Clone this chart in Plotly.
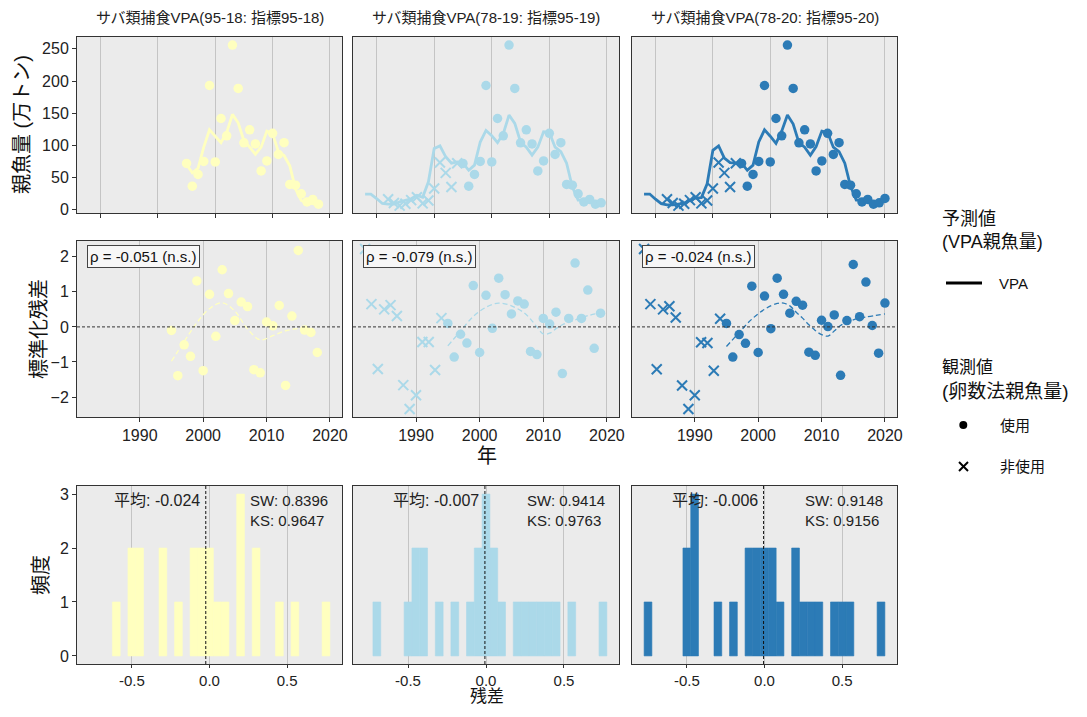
import plotly.graph_objects as go

# the page body has an 8px margin; the figure is sized to fill the rest of the window
OFF = 8
W, H = 1071, 701
FONT = "Liberation Sans, Noto Sans CJK JP, sans-serif"

# ---------------- data ----------------
TITLES = ["サバ類捕食VPA(95-18: 指標95-18)", "サバ類捕食VPA(78-19: 指標95-19)", "サバ類捕食VPA(78-20: 指標95-20)"]
COLORS = ["#FFFFBF", "#ABD9E9", "#2C7BB6"]

# VPA predicted spawning stock (万トン)
VPA_YEARS = [list(range(1995, 2019)), list(range(1978, 2020)), list(range(1978, 2021))]
VPA1 = [70, 57, 64, 97, 124, 114, 104, 120, 148, 135, 107, 97, 86, 97, 122, 118, 90, 84, 68, 32, 14, 10, 9, 6]
VPA2 = [24, 24, 17, 9.3, 8.2, 8.2, 11.8, 14.5, 16.6, 22, 19, 43, 95, 99, 82, 72, 74, 72, 61, 69,
        105, 123, 115, 104, 118, 147, 134, 105, 97, 84.5, 97, 121, 120, 97, 90, 72, 35, 14.5, 14.5, 11.8, 8.2, 10]
VPA3 = [24, 24, 16, 9, 7, 7, 8.5, 10, 14, 18, 18.5, 40, 92, 99, 80, 73, 72, 72, 61, 69,
        105, 124, 114, 103, 122, 147, 133, 104, 97, 84.5, 98, 122, 120, 97, 90, 72, 36, 14.5, 14.5, 11.8, 7.5, 9.5, 17]
VPA = [VPA1, VPA2, VPA3]

# observed (egg-survey) spawning stock
OBS_YEARS = list(range(1995, 2021))
OBS = [71.6, 36.3, 54.5, 74.7, 193, 74, 141.6, 114.6, 256, 188.5, 103.7, 124, 102, 60, 75.6, 118.5,
       85.6, 104, 38.9, 37.8, 24.3, 11.8, 15.6, 8.2, 10.3, 17.1]
OBS_END = [2018, 2019, 2020]
UNUSED_YEARS = list(range(1982, 1995))
UNUSED = [16, 10, 6, 9, 14.5, 19, 9.5, 14, 32.7, 73, 57, 35, 72]

# standardized residuals
RES_USED = [
    [-0.10, -1.39, -0.51, -0.84, 1.31, -1.25, 0.93, -0.27, 1.63, 0.95, 0.18, 0.71, 0.58, -1.22, -1.31,
     0.14, 0.03, 0.61, -1.67, 0.31, 2.18, -0.09, -0.16, -0.73],
    [0.10, -0.86, -0.21, -0.46, 1.18, -0.73, 0.90, -0.04, 1.39, 0.92, 0.37, 0.74, 0.65, -0.70, -0.79,
     0.24, 0.08, 0.42, -1.33, 0.24, 1.82, 0.24, 1.05, -0.61, 0.39],
    [0.10, -0.86, -0.22, -0.47, 1.16, -0.73, 0.88, -0.05, 1.39, 0.93, 0.39, 0.73, 0.62, -0.72, -0.81,
     0.19, 0.01, 0.34, -1.38, 0.18, 1.78, 0.29, 1.28, 0.04, -0.75, 0.68],
]
RES_UNUSED = [
    None,
    [2.22, 0.65, -1.20, 0.50, 0.62, 0.31, -1.66, -2.34, -1.95, -0.43, -0.43, -1.23, 0.25],
    [2.22, 0.65, -1.21, 0.50, 0.59, 0.27, -1.67, -2.34, -1.95, -0.44, -0.46, -1.25, 0.23],
]
# smoothed trend of residuals
SM_YEARS = [
    [1995, 1997, 1999, 2001, 2003, 2005, 2007, 2009, 2011, 2013, 2015, 2017],
    [1995, 1997, 1999, 2001, 2003, 2005, 2007, 2008, 2009, 2010, 2011, 2012, 2013, 2015, 2017, 2019],
    [1995, 1997, 1999, 2001, 2003, 2004, 2005, 2006, 2007, 2008, 2009, 2010, 2011, 2012, 2013, 2015, 2017, 2020],
]
SM_VALS = [
    [-0.98, -0.42, 0.12, 0.52, 0.69, 0.45, -0.06, -0.37, -0.25, -0.11, -0.05, -0.07],
    [-0.54, -0.12, 0.30, 0.56, 0.68, 0.60, 0.40, 0.22, 0.0, -0.20, -0.18, -0.05, 0.06, 0.20, 0.32, 0.40],
    [-0.56, -0.16, 0.22, 0.50, 0.67, 0.68, 0.60, 0.42, 0.25, 0.06, -0.10, -0.22, -0.26, -0.12, 0.04, 0.20, 0.28, 0.37],
]
RHO = ["ρ = -0.051 (n.s.)", "ρ = -0.079 (n.s.)", "ρ = -0.024 (n.s.)"]

# histogram of residuals (bin centres, counts; bin width 0.05)
HIST_X = [
    [-0.6, -0.5, -0.45, -0.3, -0.2, -0.1, -0.05, 0.0, 0.05, 0.1, 0.2, 0.3, 0.45, 0.55, 0.75],
    [-0.7, -0.5, -0.45, -0.4, -0.3, -0.2, -0.1, -0.05, 0.0, 0.05, 0.1, 0.2, 0.25, 0.3, 0.35, 0.4, 0.45, 0.55, 0.75],
    [-0.75, -0.5, -0.45, -0.3, -0.2, -0.1, -0.05, 0.0, 0.05, 0.1, 0.2, 0.25, 0.3, 0.35, 0.45, 0.5, 0.55, 0.75],
]
HIST_N = [
    [1, 2, 2, 2, 1, 2, 2, 2, 1, 1, 3, 2, 1, 1, 1],
    [1, 1, 2, 2, 1, 1, 1, 2, 3, 2, 1, 1, 1, 1, 1, 1, 1, 1, 1],
    [1, 2, 3, 1, 1, 2, 2, 2, 2, 1, 2, 1, 1, 1, 1, 1, 1, 1],
]
BINW = 0.05
MEANS = [-0.024, -0.007, -0.006]
SW = ["0.8396", "0.9414", "0.9148"]
KS = ["0.9647", "0.9763", "0.9156"]

# ---------------- layout helpers (window pixel coordinates) ----------------
COLS_PX = [(77, 342), (353, 619), (632, 897)]
ROWS_PX = [(37, 213), (241, 417), (486, 664)]


def px(x):
    return (x - OFF) / W


def py(y):
    return 1 - (y - OFF) / H


fig = go.Figure()
layout = dict(
    width=W, height=H, margin=dict(l=0, r=0, t=0, b=0, autoexpand=False),
    paper_bgcolor="white", plot_bgcolor="#EBEBEB", showlegend=False,
    font=dict(family=FONT, size=14, color="#222222"),
)
annotations = []
shapes = []

X_RANGES = [[1975.9, 2022.1], [1980.1, 2021.9], [-0.853, 0.853]]
Y_RANGES = [[-5.5, 268.5], [-2.57, 2.45], [-0.15, 3.15]]
X_TICKS = [[1980, 1990, 2000, 2010, 2020], [1990, 2000, 2010, 2020], [-0.5, 0, 0.5]]
X_TTEXT = [None, ["1990", "2000", "2010", "2020"], ["-0.5", "0.0", "0.5"]]
Y_TICKS = [[0, 50, 100, 150, 200, 250], [-2, -1, 0, 1, 2], [0, 1, 2, 3]]
X_TICKFONT = [16, 16, 15]
X_TICKLEN = [4, 4, 3]

for r in range(3):
    for c in range(3):
        i = r * 3 + c + 1
        xn = "x" if i == 1 else f"x{i}"
        yn = "y" if i == 1 else f"y{i}"
        xk = "xaxis" if i == 1 else f"xaxis{i}"
        yk = "yaxis" if i == 1 else f"yaxis{i}"
        x0, x1 = COLS_PX[c]
        y0, y1 = ROWS_PX[r]
        layout[xk] = dict(
            domain=[px(x0), px(x1)], anchor=yn, range=X_RANGES[r], automargin=False,
            tickmode="array", tickvals=X_TICKS[r],
            ticktext=X_TTEXT[r] if X_TTEXT[r] else None,
            showticklabels=(r > 0), ticks="outside", ticklen=X_TICKLEN[r], tickcolor="#333333",
            showgrid=True, gridcolor="#C4C4C4", gridwidth=0.8, zeroline=False,
            showline=True, mirror=True, linecolor="#333333", linewidth=1,
            tickfont=dict(size=X_TICKFONT[r], color="#222222"),
        )
        layout[yk] = dict(
            domain=[py(y1), py(y0)], anchor=xn, range=Y_RANGES[r], automargin=False,
            tickmode="array", tickvals=Y_TICKS[r],
            showticklabels=(c == 0), ticks="outside" if c == 0 else "", ticklen=4,
            tickcolor="#333333", showgrid=False, zeroline=False,
            showline=True, mirror=True, linecolor="#333333", linewidth=1,
            tickfont=dict(size=16, color="#222222"),
        )
        col = COLORS[c]
        if r == 0:
            fig.add_trace(go.Scatter(x=VPA_YEARS[c], y=VPA[c], mode="lines", xaxis=xn, yaxis=yn,
                                     line=dict(color=col, width=2.8)))
            if c > 0:
                fig.add_trace(go.Scatter(x=UNUSED_YEARS, y=UNUSED, mode="markers", xaxis=xn, yaxis=yn,
                                         marker=dict(symbol="x-thin", size=10,
                                                     line=dict(width=2, color=col), color=col)))
            yrs = [y for y in OBS_YEARS if y <= OBS_END[c]]
            vals = OBS[:len(yrs)]
            fig.add_trace(go.Scatter(x=yrs, y=vals, mode="markers", xaxis=xn, yaxis=yn,
                                     marker=dict(symbol="circle", size=9.5, color=col)))
            annotations.append(dict(text=TITLES[c], xref="paper", yref="paper",
                                    x=px((x0 + x1) / 2), y=py(18), xanchor="center", yanchor="middle",
                                    showarrow=False, font=dict(size=15, color="#222222")))
        elif r == 1:
            shapes.append(dict(type="line", xref=f"{xn} domain", yref=yn, x0=0, x1=1, y0=0, y1=0,
                               line=dict(color="#333333", width=1, dash="3px,2px")))
            if RES_UNUSED[c] is not None:
                fig.add_trace(go.Scatter(x=UNUSED_YEARS, y=RES_UNUSED[c], mode="markers", xaxis=xn, yaxis=yn,
                                         marker=dict(symbol="x-thin", size=10,
                                                     line=dict(width=2, color=col), color=col)))
            yrs = [y for y in OBS_YEARS if y <= OBS_END[c]]
            fig.add_trace(go.Scatter(x=yrs, y=RES_USED[c], mode="markers", xaxis=xn, yaxis=yn,
                                     marker=dict(symbol="circle", size=9.5, color=col)))
            fig.add_trace(go.Scatter(x=SM_YEARS[c], y=SM_VALS[c], mode="lines", xaxis=xn, yaxis=yn,
                                     line=dict(color=col, width=1.3, dash="5px,3px", shape="spline",
                                               smoothing=1.0)))
            annotations.append(dict(text=RHO[c], xref=f"{xn} domain", yref=f"{yn} domain",
                                    x=0, y=1, xanchor="left", yanchor="top", xshift=10, yshift=-4,
                                    showarrow=False, bgcolor="#F7F7F7", bordercolor="#444444",
                                    borderwidth=1, borderpad=2, font=dict(size=15, color="#111111")))
        else:
            fig.add_trace(go.Bar(x=HIST_X[c], y=HIST_N[c], width=BINW, xaxis=xn, yaxis=yn,
                                 marker=dict(color=col, line=dict(width=0.6, color=col))))
            shapes.append(dict(type="line", xref=xn, yref=f"{yn} domain", x0=MEANS[c], x1=MEANS[c],
                               y0=0, y1=1, line=dict(color="#111111", width=1, dash="3px,2px")))
            annotations.append(dict(text=f"平均: {MEANS[c]:.3f}", xref=xn, yref=f"{yn} domain",
                                    x=MEANS[c], y=1, xanchor="right", yanchor="top", xshift=-4, yshift=-4,
                                    showarrow=False, font=dict(size=16, color="#222222")))
            annotations.append(dict(text=f"SW: {SW[c]}<br>KS: {KS[c]}", xref=f"{xn} domain",
                                    yref=f"{yn} domain", x=1, y=1, xanchor="right", yanchor="top",
                                    xshift=-12, yshift=-4, align="left", showarrow=False,
                                    font=dict(size=15, color="#222222")))

# axis titles
for txt, xx, yy, ang, fs, ya in [("親魚量 (万トン)", 22, 125, -90, 20, "middle"),
                                 ("標準化残差", 39, 329, -90, 20, "middle"),
                                 ("頻度", 41, 575, -90, 20, "middle"),
                                 ("年", 487, 456, 0, 20, "middle"),
                                 ("残差", 487, 708, 0, 17, "bottom")]:
    annotations.append(dict(text=txt, xref="paper", yref="paper", x=px(xx), y=py(yy),
                            xanchor="center", yanchor=ya, textangle=ang, showarrow=False,
                            font=dict(size=fs, color="#111111")))

# manual legend
annotations.append(dict(text="予測値<br>(VPA親魚量)", xref="paper", yref="paper", x=px(940), y=py(207),
                        xanchor="left", yanchor="top", align="left", showarrow=False,
                        font=dict(size=18, color="#111111")))
shapes.append(dict(type="line", xref="paper", yref="paper", x0=px(946), x1=px(982), y0=py(283), y1=py(283),
                   line=dict(color="#000000", width=2.8)))
annotations.append(dict(text="VPA", xref="paper", yref="paper", x=px(997), y=py(284),
                        xanchor="left", yanchor="middle", showarrow=False, font=dict(size=15, color="#111111")))
annotations.append(dict(text="<span style='font-size:17px'>観測値</span><br>(卵数法親魚量)",
                        xref="paper", yref="paper", x=px(940), y=py(356),
                        xanchor="left", yanchor="top", align="left", showarrow=False,
                        font=dict(size=19, color="#111111")))
shapes.append(dict(type="circle", xref="paper", yref="paper", x0=px(959.3), x1=px(967.3),
                   y0=py(429), y1=py(421), fillcolor="#000000", line=dict(width=0)))
annotations.append(dict(text="使用", xref="paper", yref="paper", x=px(998), y=py(425),
                        xanchor="left", yanchor="middle", showarrow=False, font=dict(size=15, color="#111111")))
shapes.append(dict(type="line", xref="paper", yref="paper", x0=px(959), x1=px(968), y0=py(462), y1=py(471),
                   line=dict(color="#000000", width=2)))
shapes.append(dict(type="line", xref="paper", yref="paper", x0=px(959), x1=px(968), y0=py(471), y1=py(462),
                   line=dict(color="#000000", width=2)))
annotations.append(dict(text="非使用", xref="paper", yref="paper", x=px(998), y=py(467),
                        xanchor="left", yanchor="middle", showarrow=False, font=dict(size=15, color="#111111")))

layout["annotations"] = annotations
layout["shapes"] = shapes
fig.update_layout(**layout)
fig.write_html("out.html")
